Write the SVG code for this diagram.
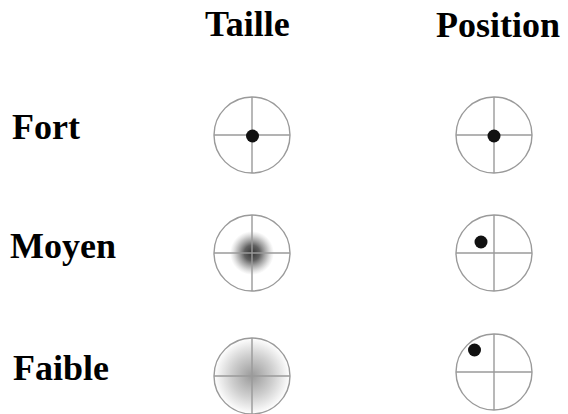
<svg xmlns="http://www.w3.org/2000/svg" width="568" height="414" viewBox="0 0 568 414">
<style>
.lbl{font-family:"Liberation Serif","Times New Roman",serif;font-weight:bold;font-size:36px;fill:#000}
.ring{fill:none;stroke:#9a9a9a;stroke-width:1.4}
.cross{stroke:#9a9a9a;stroke-width:1.4}
.dot{fill:#111}
</style>
<defs>
<radialGradient id="blurDot" cx="0.5" cy="0.5" r="0.5">
<stop offset="0" stop-color="#333" stop-opacity="1"/>
<stop offset="0.35" stop-color="#444" stop-opacity="0.85"/>
<stop offset="0.7" stop-color="#666" stop-opacity="0.4"/>
<stop offset="1" stop-color="#999" stop-opacity="0"/>
</radialGradient>
<radialGradient id="wideBlur" cx="0.5" cy="0.5" r="0.5">
<stop offset="0" stop-color="#9a9a9a"/>
<stop offset="0.55" stop-color="#cfcfcf"/>
<stop offset="1" stop-color="#fff"/>
</radialGradient>
</defs>
<rect width="568" height="414" fill="#fff"/>
<g id="headers">
<text class="lbl" x="205" y="36">Taille</text>
<text class="lbl" x="436" y="37">Position</text>
</g>
<g id="rows">
<text class="lbl" x="12" y="139">Fort</text>
<text class="lbl" x="10" y="258">Moyen</text>
<text class="lbl" x="13" y="380">Faible</text>
</g>
<g id="taille-fort">
<circle class="ring" cx="252" cy="135" r="38"/>
<line class="cross" x1="214" y1="135" x2="290" y2="135"/>
<line class="cross" x1="252" y1="97" x2="252" y2="173"/>
<circle class="dot" cx="252.5" cy="136" r="6.5"/>
</g>
<g id="taille-moyen">
<circle cx="252" cy="253" r="38" fill="#fff"/>
<circle cx="252" cy="253" r="22" fill="url(#blurDot)"/>
<line class="cross" x1="214" y1="253" x2="290" y2="253"/>
<line class="cross" x1="252" y1="215" x2="252" y2="291"/>
<circle class="ring" cx="252" cy="253" r="38"/>
</g>
<g id="taille-faible">
<circle cx="252" cy="376" r="38" fill="url(#wideBlur)"/>
<line class="cross" x1="214" y1="376" x2="290" y2="376"/>
<line class="cross" x1="252" y1="338" x2="252" y2="414"/>
<circle class="ring" cx="252" cy="376" r="38"/>
</g>
<g id="position-fort">
<circle class="ring" cx="494" cy="135" r="38"/>
<line class="cross" x1="456" y1="135" x2="532" y2="135"/>
<line class="cross" x1="494" y1="97" x2="494" y2="173"/>
<circle class="dot" cx="494" cy="136" r="6.5"/>
</g>
<g id="position-moyen">
<circle class="ring" cx="494" cy="253" r="38"/>
<line class="cross" x1="456" y1="253" x2="532" y2="253"/>
<line class="cross" x1="494" y1="215" x2="494" y2="291"/>
<circle class="dot" cx="481" cy="242" r="6.5"/>
</g>
<g id="position-faible">
<circle class="ring" cx="494" cy="372" r="38"/>
<line class="cross" x1="456" y1="372" x2="532" y2="372"/>
<line class="cross" x1="494" y1="334" x2="494" y2="410"/>
<circle class="dot" cx="474.5" cy="350" r="6.5"/>
</g>
</svg>
